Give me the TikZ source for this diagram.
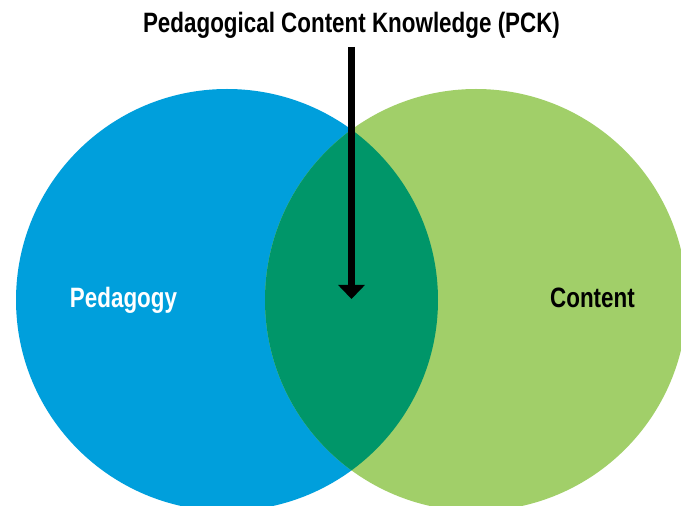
\documentclass[tikz,border=0pt]{standalone}
\usepackage{fontspec}
\newfontfamily\labelfont{Liberation Sans}[FakeStretch=0.8]
\usepackage{xcolor}
\definecolor{pedBlue}    {HTML}{009FDC}
\definecolor{contGreen}  {HTML}{A1CF69}
\definecolor{pckGreen}   {HTML}{009669}
\usetikzlibrary{arrows.meta, positioning}
\tikzset{
    setcircle/.style={circle, minimum size=422pt, inner sep=0pt},
    pedset/.style={setcircle, fill=pedBlue},
    contset/.style={setcircle, fill=contGreen},
    setlabel/.style={anchor=base, inner sep=0pt,
                     font=\labelfont\bfseries\fontsize{28}{32}\selectfont},
    pointer/.style={-{Triangle[width=26pt, length=14pt]}, line width=6.5pt},
}

\begin{document}
\begin{tikzpicture}[x=1pt, y=1pt]
    \useasboundingbox (0,0) rectangle (681,506);
    % the two sets
    \node[pedset] (ped) at (227,206) {};
    \node[contset] (cont) at (476,206) {};
    % overlap: PCK
    \begin{scope}
        \clip (227,206) circle (211);
        \fill[pckGreen] (476,206) circle (211);
    \end{scope}
    % labels
    \node[setlabel, text=white] (pedlabel) at (123.5,198) {Pedagogy};
    \node[setlabel] (contlabel) at (592.5,198) {Content};
    \node[setlabel] (pcklabel) at (351.5,473) {Pedagogical Content Knowledge (PCK)};
    \coordinate (pck) at (351.5,207);
    \draw[pointer] ([yshift=-14pt]pcklabel.base) -- (pck);
\end{tikzpicture}
\end{document}
